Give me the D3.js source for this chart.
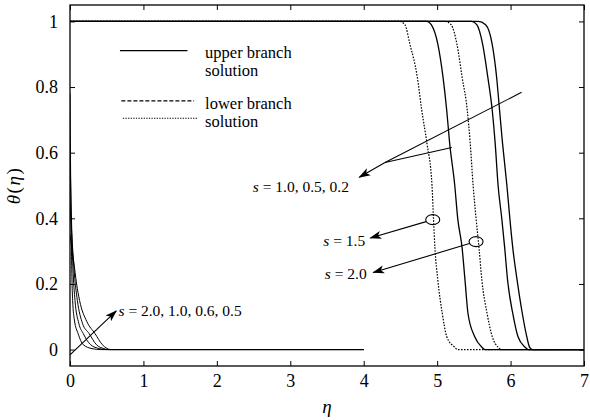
<!DOCTYPE html>
<html>
<head>
<meta charset="utf-8">
<script src="https://cdn.jsdelivr.net/npm/d3@7"></script>
<style>
  body { margin: 0; background: #fff; }
  text { font-family: "Liberation Serif", "Times New Roman", "DejaVu Serif", serif; fill: #000; }
</style>
</head>
<body>
<div id="chart"></div>
<script>
// axis ticks
var xTicks = [0, 1, 2, 3, 4, 5, 6, 7];
var yTicks = [0, 0.2, 0.4, 0.6, 0.8, 1];
var yTickLabels = ["0", "0.2", "0.4", "0.6", "0.8", "1"];

// theta levels shared by the right-hand profiles
var thetaLevels = [1, 1, 0.99, 0.93, 0.83, 0.73, 0.63, 0.5, 0.4, 0.31, 0.21, 0.11, 0.04, 0.007, 0, 0];

// upper branch (solid), s = 1.0, 0.5, 0.2
var upperS = ["1.0", "0.5", "0.2"];
var upperEta = [
  [0, 4.86, 4.92, 5.01, 5.08, 5.13, 5.17, 5.24, 5.28, 5.34, 5.38, 5.42, 5.51, 5.61, 5.65, 7],
  [0, 5.47, 5.54, 5.62, 5.69, 5.75, 5.79, 5.83, 5.88, 5.92, 5.96, 6.03, 6.10, 6.20, 6.24, 7],
  [0, 5.56, 5.66, 5.75, 5.81, 5.85, 5.89, 5.95, 5.99, 6.03, 6.09, 6.16, 6.22, 6.26, 6.30, 7]
];

// lower branch (dotted), s = 1.5, 2.0
var lowerS = ["1.5", "2.0"];
var lowerEta = [
  [0, 4.49, 4.56, 4.63, 4.73, 4.79, 4.86, 4.93, 4.95, 4.97, 5.01, 5.07, 5.13, 5.24, 5.28, 7],
  [0, 5.11, 5.19, 5.27, 5.34, 5.41, 5.45, 5.49, 5.53, 5.57, 5.61, 5.68, 5.75, 5.83, 5.87, 7]
];

// profiles near the wall, s = 2.0, 1.0, 0.6, 0.5
var nearS = ["2.0", "1.0", "0.6", "0.5"];
var nearEta = [
  [0, 0.01, 0.02, 0.036, 0.06, 0.11, 0.18, 0.3, 0.42, 4],
  [0, 0.02, 0.04, 0.068, 0.12, 0.18, 0.28, 0.4, 0.48, 4],
  [0, 0.03, 0.06, 0.10, 0.17, 0.26, 0.36, 0.46, 0.52, 4],
  [0, 0.05, 0.09, 0.13, 0.23, 0.34, 0.44, 0.5, 0.55, 4]
];
var nearTheta = [
  [0.78, 0.5, 0.3, 0.15, 0.09, 0.049, 0.015, 0.003, 0, 0],
  [0.6, 0.4, 0.25, 0.15, 0.08, 0.049, 0.015, 0.003, 0, 0],
  [0.45, 0.33, 0.23, 0.15, 0.08, 0.049, 0.015, 0.003, 0, 0],
  [0.35, 0.27, 0.2, 0.15, 0.085, 0.049, 0.015, 0.004, 0, 0]
];

var svgWidth = 590;
var svgHeight = 420;
var margin = { top: 5, right: 6, bottom: 54, left: 70 };
var width = svgWidth - margin.left - margin.right;
var height = svgHeight - margin.top - margin.bottom;
var serif = '"Liberation Serif", "Times New Roman", "DejaVu Serif", serif';

var svg = d3.select("#chart")
  .append("svg")
  .attr("width", svgWidth)
  .attr("height", svgHeight);

var defs = svg.append("defs");
defs.append("clipPath").attr("id", "plotClip")
  .append("rect").attr("width", width).attr("height", height);
defs.append("marker")
  .attr("id", "arrow")
  .attr("viewBox", "0 -5 12 10")
  .attr("refX", 11).attr("refY", 0)
  .attr("markerWidth", 12).attr("markerHeight", 10)
  .attr("markerUnits", "userSpaceOnUse")
  .attr("orient", "auto")
  .append("path")
  .attr("d", "M0,-4L12,0L0,4L3,0Z")
  .attr("fill", "#000");

var chartGroup = svg.append("g")
  .attr("transform", `translate(${margin.left}, ${margin.top})`)
  .attr("font-family", serif);

var xScale = d3.scaleLinear().domain([0, 7]).range([0, width]);
var yScale = d3.scaleLinear().domain([-0.05, 1.05]).range([height, 0]);

// axes with inward ticks
var fontTick = 18;
function styleAxis(g) {
  g.attr("font-family", serif).attr("font-size", fontTick);
  g.select(".domain").remove();
  g.selectAll(".tick line").attr("stroke", "#000").attr("stroke-width", 1);
}

chartGroup.append("g")
  .attr("transform", `translate(0, ${height})`)
  .call(d3.axisBottom(xScale).tickValues(xTicks).tickFormat(d3.format("d"))
    .tickSizeInner(-5).tickSizeOuter(0).tickPadding(8))
  .call(styleAxis);

chartGroup.append("g")
  .call(d3.axisLeft(yScale).tickValues(yTicks).tickFormat((d, i) => yTickLabels[i])
    .tickSizeInner(-5).tickSizeOuter(0).tickPadding(12))
  .call(styleAxis);

chartGroup.append("g")
  .call(d3.axisTop(xScale).tickValues(xTicks).tickFormat("").tickSizeInner(-5).tickSizeOuter(0))
  .call(styleAxis);

chartGroup.append("g")
  .attr("transform", `translate(${width}, 0)`)
  .call(d3.axisRight(yScale).tickValues(yTicks).tickFormat("").tickSizeInner(-5).tickSizeOuter(0))
  .call(styleAxis);

// curves
var line = d3.line()
  .x(d => xScale(d[0]))
  .y(d => yScale(d[1]))
  .curve(d3.curveMonotoneX);

var plot = chartGroup.append("g").attr("clip-path", "url(#plotClip)");

plot.selectAll(".near")
  .data(nearS)
  .enter()
  .append("path")
  .attr("d", (s, i) => line(d3.zip(nearEta[i], nearTheta[i])))
  .attr("fill", "none")
  .attr("stroke", "#000")
  .attr("stroke-width", 1);

plot.selectAll(".lower")
  .data(lowerS)
  .enter()
  .append("path")
  .attr("d", (s, i) => line(d3.zip(lowerEta[i], thetaLevels)))
  .attr("fill", "none")
  .attr("stroke", "#000")
  .attr("stroke-width", 1.2)
  .attr("stroke-dasharray", "1.6,1.4");

plot.selectAll(".upper")
  .data(upperS)
  .enter()
  .append("path")
  .attr("d", (s, i) => line(d3.zip(upperEta[i], thetaLevels)))
  .attr("fill", "none")
  .attr("stroke", "#000")
  .attr("stroke-width", 1.3);

// frame
chartGroup.append("rect")
  .attr("width", width).attr("height", height)
  .attr("fill", "none").attr("stroke", "#000").attr("stroke-width", 1.3);

// legend
var legend = chartGroup.append("g").attr("font-size", 16.5);
function legendLine(x0, x1, th, dash) {
  legend.append("line")
    .attr("x1", xScale(x0)).attr("x2", xScale(x1))
    .attr("y1", yScale(th)).attr("y2", yScale(th))
    .attr("stroke", "#000").attr("stroke-width", 1.1)
    .attr("stroke-dasharray", dash);
}
legendLine(0.68, 1.6, 0.911, null);
legendLine(0.70, 1.69, 0.758, "4,2");
legendLine(0.72, 1.73, 0.705, "1.3,1.3");
var legendText = [["upper branch", 0.89], ["solution", 0.835], ["lower branch", 0.733], ["solution", 0.678]];
legend.selectAll("text")
  .data(legendText)
  .enter()
  .append("text")
  .attr("x", xScale(1.84))
  .attr("y", d => yScale(d[1]))
  .text(d => d[0]);

// annotations
var ann = chartGroup.append("g").attr("font-size", 15.5);
function seg(e0, t0, e1, t1, arrow) {
  var l = ann.append("line")
    .attr("x1", xScale(e0)).attr("y1", yScale(t0))
    .attr("x2", xScale(e1)).attr("y2", yScale(t1))
    .attr("stroke", "#000").attr("stroke-width", 1.1);
  if (arrow) l.attr("marker-end", "url(#arrow)");
}
function label(e, t, anchor, rest) {
  var tx = ann.append("text")
    .attr("x", xScale(e)).attr("y", yScale(t))
    .attr("text-anchor", anchor);
  tx.append("tspan").attr("font-style", "italic").text("s");
  tx.append("tspan").text(" = " + rest);
}
function ring(e, t) {
  ann.append("ellipse")
    .attr("cx", xScale(e)).attr("cy", yScale(t))
    .attr("rx", 7).attr("ry", 5)
    .attr("fill", "none").attr("stroke", "#000").attr("stroke-width", 1.1);
}

// s = 2.0, 1.0, 0.6, 0.5
seg(0, -0.016, 0.63, 0.118, true);
label(0.66, 0.102, "start", nearS.join(", "));

// s = 1.0, 0.5, 0.2
seg(6.15, 0.784, 4.29, 0.57, false);
seg(5.2, 0.616, 4.29, 0.57, false);
seg(4.29, 0.57, 3.94, 0.525, true);
label(2.49, 0.479, "start", upperS.join(", "));

// s = 1.5
ring(4.94, 0.396);
seg(4.85, 0.39, 4.09, 0.34, true);
label(4.02, 0.317, "end", lowerS[0]);

// s = 2.0
ring(5.53, 0.329);
seg(5.44, 0.323, 4.13, 0.235, true);
label(4.04, 0.216, "end", lowerS[1]);

// axis labels
chartGroup.append("text")
  .attr("x", width / 2)
  .attr("y", height + 47)
  .attr("text-anchor", "middle")
  .attr("font-size", 19)
  .attr("font-style", "italic")
  .text("η");

chartGroup.append("text")
  .attr("transform", `translate(${-50}, ${yScale(0.5)}) rotate(-90)`)
  .attr("text-anchor", "middle")
  .attr("font-size", 19)
  .attr("letter-spacing", 1.5)
  .html('<tspan font-style="italic">θ</tspan>(<tspan font-style="italic">η</tspan>)');
</script>
</body>
</html>
